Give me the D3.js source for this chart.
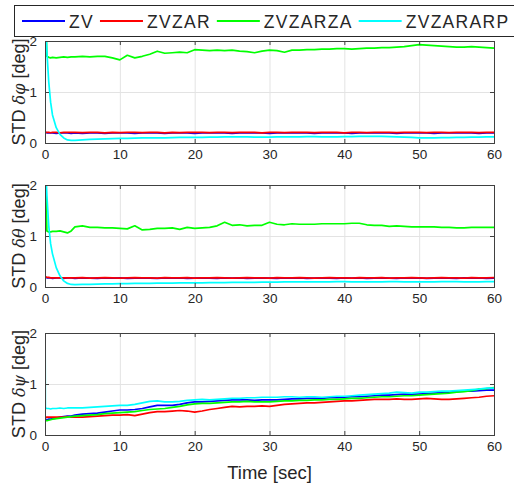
<!DOCTYPE html>
<html>
<head>
<meta charset="utf-8">
<script src="https://cdnjs.cloudflare.com/ajax/libs/d3/7.8.5/d3.min.js"></script>
<style>
  body { margin: 0; background: #fff; }
  text { font-family: "Liberation Sans", Arial, sans-serif; fill: #262626; }
</style>
</head>
<body>
<div id="chart"></div>
<script>
var seriesNames = ["ZV", "ZVZAR", "ZVZARZA", "ZVZARARP"];
var seriesColors = ["#0000ff", "#ff0000", "#00ff00", "#00ffff"];
var xTicks = [0, 10, 20, 30, 40, 50, 60];
var yTicks = [0, 1, 2];

// sample times [sec]
var time = [0, 0.05, 0.25, 0.5, 0.75, 1, 1.5, 2, 2.5, 3, 3.5,
  4, 5, 6, 7, 8, 9, 10, 11, 12, 13,
  14, 15, 16, 17, 18, 19, 20, 21, 22, 23,
  24, 25, 26, 27, 28, 29, 30, 31, 32, 33,
  34, 35, 36, 37, 38, 39, 40, 41, 42, 43,
  44, 45, 46, 47, 48, 49, 50, 51, 52, 53,
  54, 55, 56, 57, 58, 59, 60];

// roll STD [deg]
var rollZV = [0.22, 0.21, 0.2, 0.2, 0.2, 0.2, 0.19, 0.2, 0.2, 0.2, 0.19,
  0.2, 0.19, 0.2, 0.2, 0.19, 0.2, 0.2, 0.2, 0.19, 0.2,
  0.2, 0.2, 0.19, 0.2, 0.2, 0.2, 0.19, 0.2, 0.2, 0.2,
  0.2, 0.19, 0.2, 0.2, 0.2, 0.2, 0.19, 0.2, 0.2, 0.2,
  0.2, 0.2, 0.19, 0.2, 0.2, 0.2, 0.2, 0.19, 0.2, 0.2,
  0.2, 0.2, 0.2, 0.19, 0.2, 0.2, 0.2, 0.2, 0.19, 0.2,
  0.2, 0.2, 0.2, 0.2, 0.19, 0.2, 0.2];
var rollZVZAR = [0.2, 0.2, 0.21, 0.21, 0.2, 0.21, 0.21, 0.2, 0.21, 0.21, 0.21,
  0.21, 0.205, 0.21, 0.21, 0.2, 0.21, 0.205, 0.21, 0.21, 0.205,
  0.21, 0.21, 0.2, 0.21, 0.205, 0.21, 0.21, 0.21, 0.205, 0.21,
  0.21, 0.205, 0.21, 0.21, 0.21, 0.2, 0.21, 0.21, 0.205, 0.21,
  0.21, 0.21, 0.205, 0.21, 0.21, 0.21, 0.2, 0.21, 0.21, 0.205,
  0.21, 0.21, 0.21, 0.205, 0.21, 0.21, 0.21, 0.205, 0.21, 0.21,
  0.205, 0.21, 0.21, 0.21, 0.205, 0.21, 0.21];
var rollZVZARZA = [0.2, 2.6, 1.7, 1.68, 1.67, 1.68, 1.67, 1.68, 1.69, 1.68, 1.69,
  1.69, 1.70, 1.69, 1.70, 1.70, 1.67, 1.63, 1.72, 1.67, 1.70,
  1.74, 1.80, 1.76, 1.77, 1.78, 1.77, 1.83, 1.82, 1.81, 1.82,
  1.81, 1.82, 1.80, 1.79, 1.77, 1.80, 1.82, 1.81, 1.78, 1.82,
  1.82, 1.83, 1.83, 1.84, 1.84, 1.85, 1.85, 1.84, 1.85, 1.86,
  1.86, 1.87, 1.87, 1.88, 1.89, 1.91, 1.93, 1.92, 1.91, 1.90,
  1.89, 1.88, 1.88, 1.89, 1.88, 1.87, 1.86];
var rollZVZARARP = [3, 2.5, 1.8, 1.2, 0.8, 0.55, 0.3, 0.17, 0.1, 0.06, 0.05,
  0.05, 0.06, 0.07, 0.075, 0.08, 0.085, 0.09, 0.09, 0.095, 0.1,
  0.1, 0.1, 0.1, 0.105, 0.11, 0.11, 0.11, 0.11, 0.115, 0.115,
  0.12, 0.12, 0.12, 0.12, 0.115, 0.115, 0.115, 0.12, 0.12, 0.12,
  0.12, 0.125, 0.125, 0.12, 0.12, 0.12, 0.125, 0.125, 0.13, 0.13,
  0.13, 0.13, 0.125, 0.12, 0.115, 0.11, 0.1, 0.1, 0.1, 0.105,
  0.105, 0.11, 0.11, 0.115, 0.115, 0.12, 0.12];

// pitch STD [deg]
var pitchZV = [0.2, 0.19, 0.18, 0.18, 0.18, 0.17, 0.18, 0.18, 0.17, 0.18, 0.18,
  0.17, 0.18, 0.175, 0.17, 0.18, 0.175, 0.18, 0.17, 0.175, 0.18,
  0.175, 0.17, 0.18, 0.175, 0.18, 0.17, 0.175, 0.18, 0.175, 0.17,
  0.18, 0.175, 0.18, 0.17, 0.175, 0.18, 0.175, 0.17, 0.18, 0.175,
  0.18, 0.17, 0.175, 0.18, 0.175, 0.17, 0.18, 0.175, 0.18, 0.17,
  0.175, 0.18, 0.175, 0.17, 0.18, 0.175, 0.18, 0.17, 0.175, 0.18,
  0.175, 0.17, 0.18, 0.175, 0.18, 0.17, 0.175];
var pitchZVZAR = [0.2, 0.2, 0.19, 0.19, 0.18, 0.18, 0.18, 0.18, 0.18, 0.18, 0.18,
  0.18, 0.185, 0.175, 0.18, 0.185, 0.18, 0.175, 0.18, 0.185, 0.18,
  0.18, 0.175, 0.185, 0.18, 0.18, 0.185, 0.175, 0.18, 0.18, 0.185,
  0.18, 0.175, 0.18, 0.185, 0.18, 0.18, 0.175, 0.185, 0.18, 0.18,
  0.185, 0.18, 0.175, 0.18, 0.185, 0.18, 0.18, 0.175, 0.185, 0.18,
  0.18, 0.185, 0.175, 0.18, 0.18, 0.185, 0.18, 0.175, 0.18, 0.185,
  0.18, 0.18, 0.175, 0.185, 0.18, 0.18, 0.185];
var pitchZVZARZA = [0.2, 2.6, 1.1, 1.08, 1.08, 1.09, 1.09, 1.1, 1.08, 1.06, 1.1,
  1.18, 1.2, 1.17, 1.17, 1.16, 1.16, 1.15, 1.14, 1.2, 1.12,
  1.13, 1.15, 1.15, 1.16, 1.13, 1.17, 1.15, 1.16, 1.17, 1.2,
  1.27, 1.21, 1.22, 1.2, 1.21, 1.21, 1.27, 1.23, 1.22, 1.24,
  1.23, 1.23, 1.23, 1.24, 1.24, 1.24, 1.24, 1.25, 1.25, 1.22,
  1.21, 1.21, 1.19, 1.2, 1.19, 1.18, 1.18, 1.18, 1.18, 1.17,
  1.17, 1.16, 1.16, 1.17, 1.17, 1.17, 1.17];
var pitchZVZARARP = [3, 2.5, 1.8, 1.2, 0.85, 0.65, 0.38, 0.22, 0.12, 0.07, 0.05,
  0.045, 0.05, 0.05, 0.055, 0.06, 0.06, 0.065, 0.065, 0.07, 0.07,
  0.07, 0.075, 0.075, 0.075, 0.08, 0.08, 0.08, 0.08, 0.085, 0.085,
  0.085, 0.09, 0.09, 0.09, 0.09, 0.095, 0.095, 0.095, 0.1, 0.1,
  0.1, 0.1, 0.1, 0.1, 0.1, 0.105, 0.105, 0.1, 0.1, 0.1,
  0.1, 0.1, 0.105, 0.105, 0.1, 0.1, 0.1, 0.1, 0.1, 0.105,
  0.105, 0.105, 0.1, 0.1, 0.1, 0.105, 0.105];

// yaw STD [deg]
var yawZV = [0.31, 0.3, 0.3, 0.31, 0.31, 0.32, 0.33, 0.35, 0.36, 0.37, 0.37,
  0.39, 0.41, 0.42, 0.43, 0.45, 0.47, 0.49, 0.49, 0.5, 0.52,
  0.55, 0.58, 0.58, 0.58, 0.6, 0.63, 0.65, 0.65, 0.66, 0.67,
  0.68, 0.69, 0.69, 0.69, 0.68, 0.69, 0.69, 0.69, 0.7, 0.71,
  0.71, 0.72, 0.72, 0.72, 0.73, 0.73, 0.74, 0.75, 0.75, 0.76,
  0.77, 0.78, 0.78, 0.79, 0.8, 0.8, 0.8, 0.81, 0.82, 0.83,
  0.84, 0.85, 0.86, 0.86, 0.87, 0.88, 0.88];
var yawZVZAR = [0.34, 0.34, 0.35, 0.35, 0.35, 0.35, 0.35, 0.35, 0.35, 0.36, 0.35,
  0.35, 0.35, 0.36, 0.37, 0.38, 0.39, 0.39, 0.4, 0.38, 0.41,
  0.44, 0.46, 0.46, 0.47, 0.48, 0.47, 0.45, 0.47, 0.5, 0.52,
  0.54, 0.56, 0.55, 0.56, 0.56, 0.57, 0.56, 0.58, 0.6, 0.61,
  0.62, 0.63, 0.63, 0.64, 0.65, 0.66, 0.67, 0.67, 0.68, 0.69,
  0.7, 0.7, 0.7, 0.71, 0.7, 0.7, 0.71, 0.72, 0.71, 0.7,
  0.7, 0.71, 0.72, 0.73, 0.74, 0.76, 0.77];
var yawZVZARZA = [0.28, 0.28, 0.28, 0.29, 0.3, 0.31, 0.32, 0.33, 0.34, 0.35, 0.36,
  0.37, 0.38, 0.39, 0.4, 0.42, 0.43, 0.44, 0.45, 0.46, 0.48,
  0.5, 0.51, 0.52, 0.54, 0.56, 0.59, 0.61, 0.62, 0.62, 0.63,
  0.64, 0.65, 0.65, 0.66, 0.65, 0.65, 0.65, 0.66, 0.67, 0.67,
  0.68, 0.68, 0.69, 0.69, 0.7, 0.7, 0.71, 0.72, 0.72, 0.73,
  0.74, 0.75, 0.75, 0.76, 0.77, 0.77, 0.78, 0.79, 0.8, 0.81,
  0.82, 0.84, 0.85, 0.87, 0.9, 0.91, 0.93];
var yawZVZARARP = [2.6, 0.53, 0.52, 0.52, 0.51, 0.52, 0.52, 0.53, 0.52, 0.53, 0.53,
  0.53, 0.53, 0.54, 0.55, 0.56, 0.57, 0.58, 0.58, 0.6, 0.63,
  0.66, 0.67, 0.65, 0.65, 0.66, 0.68, 0.69, 0.7, 0.69, 0.7,
  0.71, 0.72, 0.72, 0.73, 0.73, 0.74, 0.74, 0.74, 0.75, 0.75,
  0.74, 0.75, 0.75, 0.74, 0.75, 0.76, 0.76, 0.77, 0.78, 0.79,
  0.8, 0.81, 0.82, 0.84, 0.83, 0.82, 0.84, 0.84, 0.85, 0.86,
  0.86, 0.87, 0.88, 0.89, 0.9, 0.92, 0.92];

var panels = [
  {sym: "\u03b4\u03c6", series: [rollZV, rollZVZAR, rollZVZARZA, rollZVZARARP], top: 41},
  {sym: "\u03b4\u03b8", series: [pitchZV, pitchZVZAR, pitchZVZARZA, pitchZVZARARP], top: 185},
  {sym: "\u03b4\u03c8", series: [yawZV, yawZVZAR, yawZVZARZA, yawZVZARARP], top: 333}
];

var width = 514, height = 488;
var left = 45, right = 494, ph = 102;
var fmt = d3.format("d");

var svg = d3.select("#chart").append("svg")
    .attr("width", width)
    .attr("height", height);

var x = d3.scaleLinear().domain([0, 60]).range([left, right]);

function noDomain(s) { s.select(".domain").remove(); }

panels.forEach(function(p, pi) {
  var y = d3.scaleLinear().domain([0, 2]).range([p.top + ph, p.top]);
  var g = svg.append("g");

  g.append("rect")
      .attr("x", left).attr("y", p.top)
      .attr("width", right - left).attr("height", ph)
      .attr("fill", "#fff");

  // grid
  g.append("g")
      .attr("transform", "translate(0," + (p.top + ph) + ")")
      .call(d3.axisBottom(x).tickValues(xTicks).tickSize(-ph).tickFormat(""))
      .call(noDomain)
      .selectAll("line").attr("stroke", "#e3e3e3");
  g.append("g")
      .attr("transform", "translate(" + left + ",0)")
      .call(d3.axisLeft(y).tickValues(yTicks).tickSize(-(right - left)).tickFormat(""))
      .call(noDomain)
      .selectAll("line").attr("stroke", "#e3e3e3");

  var clipId = "clip" + pi;
  svg.append("clipPath").attr("id", clipId)
    .append("rect")
      .attr("x", left).attr("y", p.top)
      .attr("width", right - left).attr("height", ph);

  var line = d3.line()
      .x(function(d, i) { return x(time[i]); })
      .y(function(d) { return y(d); });

  g.append("g")
      .attr("clip-path", "url(#" + clipId + ")")
    .selectAll("path")
      .data(p.series)
    .enter().append("path")
      .attr("d", line)
      .attr("fill", "none")
      .attr("stroke", function(d, i) { return seriesColors[i]; })
      .attr("stroke-width", 1.7)
      .attr("stroke-linejoin", "round");

  // inward ticks on all four sides
  var tickCol = "#404040";
  g.append("g").attr("transform", "translate(0," + (p.top + ph) + ")")
      .call(d3.axisBottom(x).tickValues(xTicks).tickSize(-4).tickFormat(""))
      .call(noDomain)
      .selectAll("line").attr("stroke", tickCol);
  g.append("g").attr("transform", "translate(0," + p.top + ")")
      .call(d3.axisTop(x).tickValues(xTicks).tickSize(-4).tickFormat(""))
      .call(noDomain)
      .selectAll("line").attr("stroke", tickCol);
  g.append("g").attr("transform", "translate(" + left + ",0)")
      .call(d3.axisLeft(y).tickValues(yTicks).tickSize(-4).tickFormat(""))
      .call(noDomain)
      .selectAll("line").attr("stroke", tickCol);
  g.append("g").attr("transform", "translate(" + right + ",0)")
      .call(d3.axisRight(y).tickValues(yTicks).tickSize(-4).tickFormat(""))
      .call(noDomain)
      .selectAll("line").attr("stroke", tickCol);

  g.append("rect")
      .attr("x", left + 0.5).attr("y", p.top + 0.5)
      .attr("width", right - left).attr("height", ph)
      .attr("fill", "none")
      .attr("stroke", tickCol);

  // tick labels
  var xl = g.append("g").attr("transform", "translate(0," + (p.top + ph) + ")")
      .call(d3.axisBottom(x).tickValues(xTicks).tickSize(0).tickPadding(6).tickFormat(fmt))
      .call(noDomain);
  var yl = g.append("g").attr("transform", "translate(" + left + ",0)")
      .call(d3.axisLeft(y).tickValues(yTicks).tickSize(0).tickPadding(8).tickFormat(fmt))
      .call(noDomain);
  [xl, yl].forEach(function(a) {
    a.selectAll("text")
        .attr("font-family", "Liberation Sans, Arial, sans-serif")
        .attr("font-size", "13.5px")
        .attr("fill", "#262626");
  });

  // y label
  var lab = g.append("text")
      .attr("transform", "translate(25," + (p.top + ph / 2) + ") rotate(-90)")
      .attr("text-anchor", "middle")
      .attr("font-size", "18px");
  lab.append("tspan").text("STD ");
  lab.append("tspan")
      .attr("font-family", "DejaVu Serif, Liberation Serif, serif")
      .attr("font-style", "italic")
      .attr("font-size", "16px")
      .text(p.sym);
  lab.append("tspan").text(" [deg]");
});

svg.append("text")
    .attr("x", (left + right) / 2)
    .attr("y", 479)
    .attr("text-anchor", "middle")
    .attr("font-size", "18.5px")
    .text("Time [sec]");

// legend
var leg = svg.append("g");
leg.append("rect")
    .attr("x", 14.5).attr("y", 5.5)
    .attr("width", 510).attr("height", 31)
    .attr("fill", "#fff")
    .attr("stroke", "#262626");

var lx = 22;
seriesNames.forEach(function(name, i) {
  leg.append("line")
      .attr("x1", lx).attr("x2", lx + 43)
      .attr("y1", 21).attr("y2", 21)
      .attr("stroke", seriesColors[i])
      .attr("stroke-width", 2);
  var t = leg.append("text")
      .attr("x", lx + 47)
      .attr("y", 28)
      .attr("font-size", "17.5px")
      .attr("letter-spacing", "1.3px")
      .text(name);
  lx = lx + 47 + t.node().getComputedTextLength() + 6;
});
</script>
</body>
</html>
